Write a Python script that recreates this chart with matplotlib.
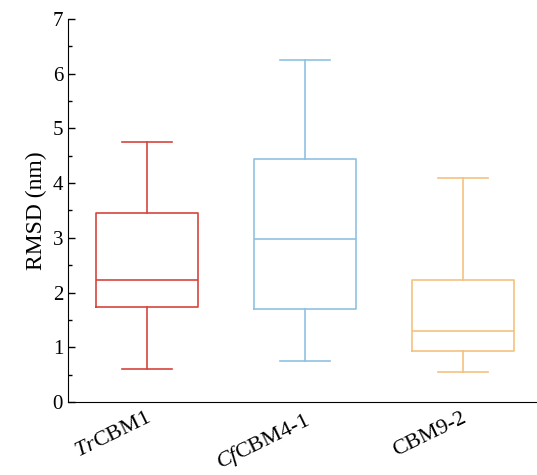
import matplotlib
matplotlib.use("Agg")
import matplotlib.pyplot as plt
import matplotlib.transforms as mtransforms
from matplotlib.ticker import MultipleLocator

plt.rcParams['font.family'] = ['Liberation Serif', 'DejaVu Serif']
plt.rcParams['mathtext.fontset'] = 'custom'
plt.rcParams['mathtext.rm'] = 'Liberation Serif'
plt.rcParams['mathtext.it'] = 'Liberation Serif:italic'

# gegevens
labels = [r"$\mathit{Tr}$CBM1", r"$\mathit{Cf}$CBM4-1", "CBM9-2"]
whisker_low = [0.60, 0.75, 0.55]
q1 = [1.74, 1.70, 0.93]
median = [2.23, 2.97, 1.30]
q3 = [3.45, 4.45, 2.23]
whisker_high = [4.75, 6.25, 4.09]
colors = ["#d6453d", "#8fc1e3", "#f2c27f"]

stats = []
for i in range(len(labels)):
    stats.append({"whislo": whisker_low[i], "q1": q1[i], "med": median[i],
                  "q3": q3[i], "whishi": whisker_high[i], "fliers": []})

fig = plt.figure(figsize=(5.37, 4.75), dpi=100)
ax = fig.add_axes([0.1266, 0.1537, 0.8734, 0.8063])

bp = ax.bxp(stats, positions=[1, 2, 3], widths=0.645, showfliers=False,
            patch_artist=False, capwidths=0.32)
for i, c in enumerate(colors):
    for art in [bp['boxes'][i], bp['medians'][i]]:
        art.set_color(c)
        art.set_linewidth(1.2)
    for art in bp['whiskers'][2 * i:2 * i + 2] + bp['caps'][2 * i:2 * i + 2]:
        art.set_color(c)
        art.set_linewidth(1.2)

ax.set_xlim(0.5, 3.47)
ax.set_ylim(0, 7)
ax.yaxis.set_major_locator(MultipleLocator(1))
ax.yaxis.set_minor_locator(MultipleLocator(0.5))
ax.tick_params(axis='y', which='major', direction='in', length=5, width=1, labelsize=15)
ax.tick_params(axis='y', which='minor', direction='in', length=3, width=1)
ax.tick_params(axis='x', length=0, pad=5)
ax.spines['top'].set_visible(False)
ax.spines['right'].set_visible(False)
ax.set_ylabel("RMSD (nm)", fontsize=17, labelpad=4)

ax.set_xticks([1, 2, 3])
ax.set_xticklabels(labels, fontsize=16, rotation=26, ha='right', rotation_mode='anchor')
offset = mtransforms.ScaledTranslation(-1 / 72, 0, fig.dpi_scale_trans)
for lab in ax.get_xticklabels():
    lab.set_transform(lab.get_transform() + offset)

fig.savefig("out.png", dpi=100)
